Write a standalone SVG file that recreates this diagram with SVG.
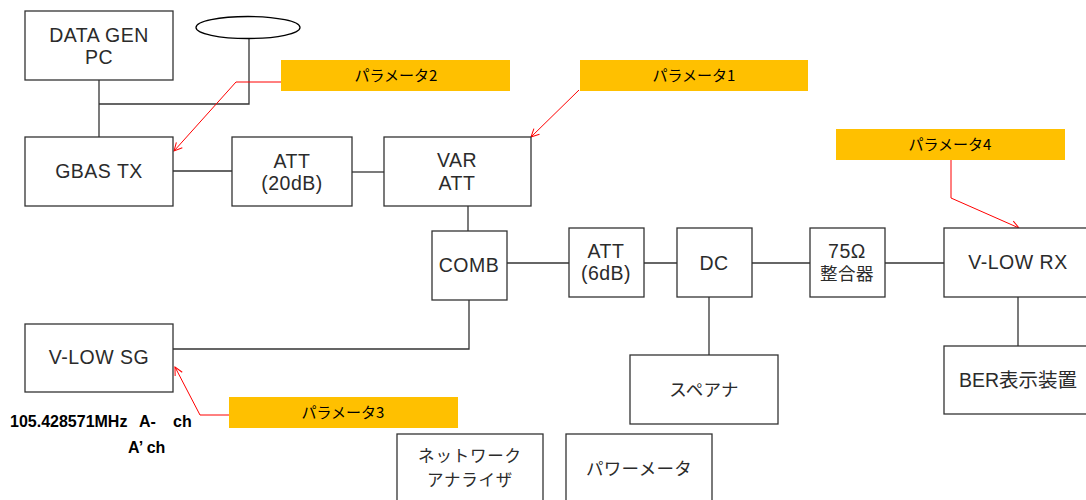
<svg xmlns="http://www.w3.org/2000/svg" width="1086" height="500" viewBox="0 0 1086 500">
<style>
.box{fill:#fff;stroke:#333;stroke-width:1.3}
.t{font-family:"Liberation Sans","Noto Sans CJK JP",sans-serif;font-size:19.5px;fill:#2b2b2b;text-anchor:middle;letter-spacing:0.5px}
.j{font-family:"Noto Sans CJK JP","Liberation Sans",sans-serif;font-size:17.5px;fill:#2b2b2b;text-anchor:middle;letter-spacing:0.3px}
.p{fill:#ffc000}
.pt{font-family:"Noto Sans CJK JP","Noto Sans",sans-serif;font-size:15px;fill:#000;text-anchor:middle}
.ln{fill:none;stroke:#333;stroke-width:1.3}
.rd{fill:none;stroke:#ff0000;stroke-width:1}
.b{font-family:"Liberation Sans",Arial,sans-serif;font-size:16px;font-weight:bold;fill:#000}
</style>
<defs>
<marker id="ah" markerWidth="10" markerHeight="10" refX="9" refY="5" orient="auto" markerUnits="userSpaceOnUse">
<path d="M1,1 L9,5 L1,9" fill="none" stroke="#ff0000" stroke-width="1"/>
</marker>
</defs>
<g id="connectors">
<polyline class="ln" points="99,80 99,137"/>
<polyline class="ln" points="99,104 249,104 249,38"/>
<polyline class="ln" points="173,171 232,171"/>
<polyline class="ln" points="352,172 384,172"/>
<polyline class="ln" points="468,206 468,231"/>
<polyline class="ln" points="507,263 569,263"/>
<polyline class="ln" points="644,263 677,263"/>
<polyline class="ln" points="752,263 810,263"/>
<polyline class="ln" points="885,263 944,263"/>
<polyline class="ln" points="469,300 469,349 173,349"/>
<polyline class="ln" points="709,297 709,355"/>
<polyline class="ln" points="1018,297 1018,346"/>
<polyline class="rd" points="281,82 236,82 174,151" marker-end="url(#ah)"/>
<polyline class="rd" points="579,90 531,137" marker-end="url(#ah)"/>
<polyline class="rd" points="229,415 200,415 175,367" marker-end="url(#ah)"/>
<polyline class="rd" points="951,155 951,198 1019,228" marker-end="url(#ah)"/>
</g>
<g id="antenna"><ellipse cx="248" cy="27.5" rx="52" ry="11" fill="#fff" stroke="#000" stroke-width="1.3"/></g>
<g id="datagen"><rect class="box" x="25" y="11" width="148" height="69"/><text class="t"><tspan x="99" y="42">DATA GEN</tspan><tspan x="99" y="64">PC</tspan></text></g>
<g id="gbastx"><rect class="box" x="25" y="137" width="148" height="69"/><text class="t" x="99" y="178">GBAS TX</text></g>
<g id="att20"><rect class="box" x="232" y="137" width="120" height="69"/><text class="t"><tspan x="292" y="168">ATT</tspan><tspan x="292" y="190">(20dB)</tspan></text></g>
<g id="varatt"><rect class="box" x="384" y="137" width="147" height="69"/><text class="t"><tspan x="457" y="167">VAR</tspan><tspan x="457" y="190">ATT</tspan></text></g>
<g id="comb"><rect class="box" x="432" y="231" width="75" height="69"/><text class="t" x="469" y="272">COMB</text></g>
<g id="att6"><rect class="box" x="569" y="228" width="75" height="69"/><text class="t"><tspan x="606" y="258">ATT</tspan><tspan x="606" y="280">(6dB)</tspan></text></g>
<g id="dc"><rect class="box" x="677" y="228" width="75" height="69"/><text class="t" x="714" y="270">DC</text></g>
<g id="match"><rect class="box" x="810" y="228" width="75" height="69"/><text class="t"><tspan x="847" y="258">75Ω</tspan><tspan x="847" y="280" style="font-size:17.5px">整合器</tspan></text></g>
<g id="vlowrx"><rect class="box" x="944" y="228" width="146" height="69"/><text class="t" x="1018" y="269">V-LOW RX</text></g>
<g id="ber"><rect class="box" x="944" y="346" width="146" height="68"/><text class="t" x="1018" y="387" style="letter-spacing:0">BER表示装置</text></g>
<g id="vlowsg"><rect class="box" x="25" y="324" width="148" height="68"/><text class="t" x="99" y="364">V-LOW SG</text></g>
<g id="specana"><rect class="box" x="630" y="355" width="148" height="69"/><text class="j" x="704" y="396">スペアナ</text></g>
<g id="netana"><rect class="box" x="397" y="434" width="146" height="80"/><text class="j" style="font-size:16.5px;letter-spacing:0.8px"><tspan x="470" y="462">ネットワーク</tspan><tspan x="470" y="486">アナライザ</tspan></text></g>
<g id="powmeter"><rect class="box" x="566" y="434" width="146" height="80"/><text class="j" x="639" y="475">パワーメータ</text></g>
<g id="param2"><rect class="p" x="281" y="60" width="229" height="31"/><text class="pt" x="396" y="81">パラメータ2</text></g>
<g id="param1"><rect class="p" x="580" y="60" width="228" height="31"/><text class="pt" x="694" y="81">パラメータ1</text></g>
<g id="param3"><rect class="p" x="229" y="397" width="229" height="31"/><text class="pt" x="343" y="418">パラメータ3</text></g>
<g id="param4"><rect class="p" x="836" y="129" width="229" height="31"/><text class="pt" x="950" y="150">パラメータ4</text></g>
<g id="notes"><text class="b"><tspan x="10" y="427">105.428571MHz</tspan><tspan x="139" y="427">A-</tspan><tspan x="173" y="427">ch</tspan><tspan x="128" y="453">A’ ch</tspan></text></g>
</svg>
